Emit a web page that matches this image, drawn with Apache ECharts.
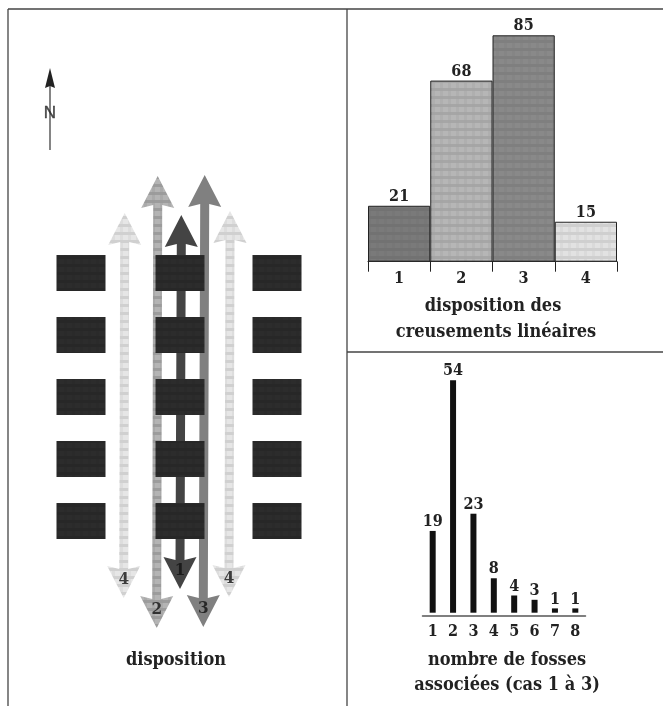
<!DOCTYPE html>
<html>
<head>
<meta charset="utf-8">
<style>
  html, body { margin: 0; padding: 0; background: #fff; }
  #main { width: 663px; height: 706px; }
</style>
<script src="https://cdn.jsdelivr.net/npm/echarts@6/dist/echarts.min.js"></script>
</head>
<body>
<div id="main"></div>
<script>
// top right chart
const dispositionCats = ['1', '2', '3', '4'];
const dispositionValues = [21, 68, 85, 15];

// bottom right chart
const fossesCats = ['1', '2', '3', '4', '5', '6', '7', '8'];
const fossesValues = [19, 54, 23, 8, 4, 3, 1, 1];

// plan on the left in plan units
const planColumns = [81, 180, 277];
const planRows = [273, 335, 397, 459, 521];
const arrowNames = ['4', '2', '1', '3', '4'];
const arrowTopX = [124.7, 157.7, 181.3, 204.7, 230];
const arrowBottomX = [123.7, 156.7, 180, 203.3, 229];
const arrowTopTip = [213, 176, 215, 175, 211];
const arrowBottomTip = [598, 628, 589, 627, 597];

const font = 'DejaVu Serif Condensed';

// small repeating fill to get the screened look of the print
function screen(base, band, size) {
  const c = document.createElement('canvas');
  c.width = size;
  c.height = size;
  const ctx = c.getContext('2d');
  ctx.fillStyle = base;
  ctx.fillRect(0, 0, size, size);
  ctx.fillStyle = band;
  ctx.fillRect(0, 0, size, 3);
  ctx.globalAlpha = 0.4;
  ctx.fillRect(0, 0, 3, size);
  return { image: c, repeat: 'repeat' };
}

const barFills = [
  screen('#7a7a7a', '#727272', 8),
  screen('#b6b6b6', '#a6a6a6', 8),
  screen('#898989', '#7f7f7f', 8),
  screen('#e2e2e2', '#cfcfcf', 8)
];
const arrowFills = [
  screen('#e6e6e6', '#d0d0d0', 8),
  screen('#b4b4b4', '#9c9c9c', 8),
  '#444444',
  '#808080',
  screen('#e6e6e6', '#d0d0d0', 8)
];
const blockFill = screen('#2c2c2c', '#272727', 8);

function renderBlock(params, api) {
  const c = api.coord([api.value(0), api.value(1)]);
  return { type: 'rect', shape: { x: c[0] - 24.5, y: c[1] - 18, width: 49, height: 36 }, style: { fill: blockFill } };
}

function renderArrow(params, api) {
  const i = params.dataIndex;
  const xt = arrowTopX[i], xb = arrowBottomX[i];
  const tt = arrowTopTip[i], bt = arrowBottomTip[i];
  const pts = [
    [xt, tt], [xt + 16.5, tt + 32], [xt + 4.5, tt + 29],
    [xb + 4.5, bt - 29], [xb + 16.5, bt - 32], [xb, bt],
    [xb - 16.5, bt - 32], [xb - 4.5, bt - 29], [xt - 4.5, tt + 29], [xt - 16.5, tt + 32]
  ].map(p => api.coord(p));
  return { type: 'polygon', shape: { points: pts }, style: { fill: arrowFills[i] } };
}

function renderNorth(params, api) {
  const pts = [[50, 68], [55, 88], [50, 86], [45, 88]].map(p => api.coord(p));
  const a = api.coord([50, 86]), b = api.coord([50, 150]);
  return {
    type: 'group',
    children: [
      { type: 'polygon', shape: { points: pts }, style: { fill: '#222' } },
      { type: 'line', shape: { x1: a[0], y1: a[1], x2: b[0], y2: b[1] }, style: { stroke: '#333', lineWidth: 1.2 } }
    ]
  };
}

const blocks = [];
planRows.forEach(y => planColumns.forEach(x => blocks.push([x, y])));

const captions = [
  ['disposition', 176, 651],
  ['disposition des', 493, 297],
  ['creusements linéaires', 496, 323],
  ['nombre de fosses', 507, 651],
  ['associées (cas 1 à 3)', 507, 676]
];

const frame = [
  [8, 9, 663, 9],
  [8, 9, 8, 706],
  [347, 9, 347, 706],
  [347, 352, 663, 352]
];

const numberLabel = { show: true, position: 'top', distance: 1, fontFamily: font, fontWeight: 'bold', fontSize: 16, color: '#222' };

const option = {
  backgroundColor: '#fff',
  animation: false,
  title: captions.map(c => ({
    text: c[0], left: c[1], top: c[2],
    textAlign: 'center',
    textStyle: { fontFamily: font, fontWeight: 'bold', fontSize: 18, color: '#222' },
    padding: 0
  })),
  grid: [
    { left: 368, top: 35.3, width: 249, height: 226.4 },
    { left: 422.5, top: 380.3, width: 163, height: 232.4 },
    { left: 0, top: 0, width: 663, height: 706 }
  ],
  xAxis: [
    {
      gridIndex: 0, type: 'category', data: dispositionCats,
      axisLine: { onZero: false, lineStyle: { color: '#222', width: 1 } },
      axisTick: { show: true, length: 10, lineStyle: { color: '#222', width: 1 } },
      axisLabel: { margin: 9, fontFamily: font, fontWeight: 'bold', fontSize: 16, color: '#222' }
    },
    {
      gridIndex: 1, type: 'category', data: fossesCats, offset: 3,
      axisLine: { onZero: false, lineStyle: { color: '#555', width: 1.5 } },
      axisTick: { show: false },
      axisLabel: { margin: 8, interval: 0, fontFamily: font, fontWeight: 'bold', fontSize: 16, color: '#222' }
    },
    { gridIndex: 2, type: 'value', min: 0, max: 663, show: false }
  ],
  yAxis: [
    { gridIndex: 0, type: 'value', min: 0, max: 85, show: false },
    { gridIndex: 1, type: 'value', min: 0, max: 54, show: false },
    { gridIndex: 2, type: 'value', min: 0, max: 706, inverse: true, show: false }
  ],
  series: [
    {
      type: 'bar', xAxisIndex: 0, yAxisIndex: 0, barWidth: '100%', silent: true,
      data: dispositionValues.map((v, i) => ({ value: v, itemStyle: { color: barFills[i] } })),
      itemStyle: { borderColor: '#222', borderWidth: 1 },
      label: numberLabel
    },
    {
      type: 'bar', xAxisIndex: 1, yAxisIndex: 1, barWidth: 6, silent: true,
      data: fossesValues,
      itemStyle: { color: '#111' },
      label: numberLabel
    },
    {
      type: 'custom', xAxisIndex: 2, yAxisIndex: 2, silent: true, z: 2, clip: false,
      data: arrowTopX.map((x, i) => [x, arrowTopTip[i]]),
      renderItem: renderArrow
    },
    {
      type: 'custom', xAxisIndex: 2, yAxisIndex: 2, silent: true, z: 3, clip: false,
      data: blocks,
      renderItem: renderBlock
    },
    {
      type: 'custom', xAxisIndex: 2, yAxisIndex: 2, silent: true, z: 3, clip: false,
      data: [[50, 68]],
      renderItem: renderNorth
    },
    {
      type: 'scatter', xAxisIndex: 2, yAxisIndex: 2, silent: true, z: 4, symbolSize: 1,
      itemStyle: { color: 'transparent' },
      data: arrowNames.map((n, i) => ({ value: [arrowBottomX[i], arrowBottomTip[i] - 18], name: n })),
      label: { show: true, position: 'inside', formatter: '{b}', fontFamily: font, fontWeight: 'bold', fontSize: 17, color: '#111' }
    },
    {
      type: 'scatter', xAxisIndex: 2, yAxisIndex: 2, silent: true, z: 4, symbolSize: 1,
      itemStyle: { color: 'transparent' },
      data: [{ value: [50, 113], name: 'N' }],
      label: { show: true, position: 'inside', formatter: '{b}', fontFamily: 'Liberation Sans', fontSize: 17, color: '#222', textBorderColor: '#222', textBorderWidth: 0.4 }
    }
  ],
  graphic: frame.map(f => ({
    type: 'line', silent: true,
    shape: { x1: f[0], y1: f[1], x2: f[2], y2: f[3] },
    style: { stroke: '#444', lineWidth: 1.3 }
  }))
};

const myChart = echarts.init(document.getElementById('main'));
myChart.setOption(option);
</script>
</body>
</html>
